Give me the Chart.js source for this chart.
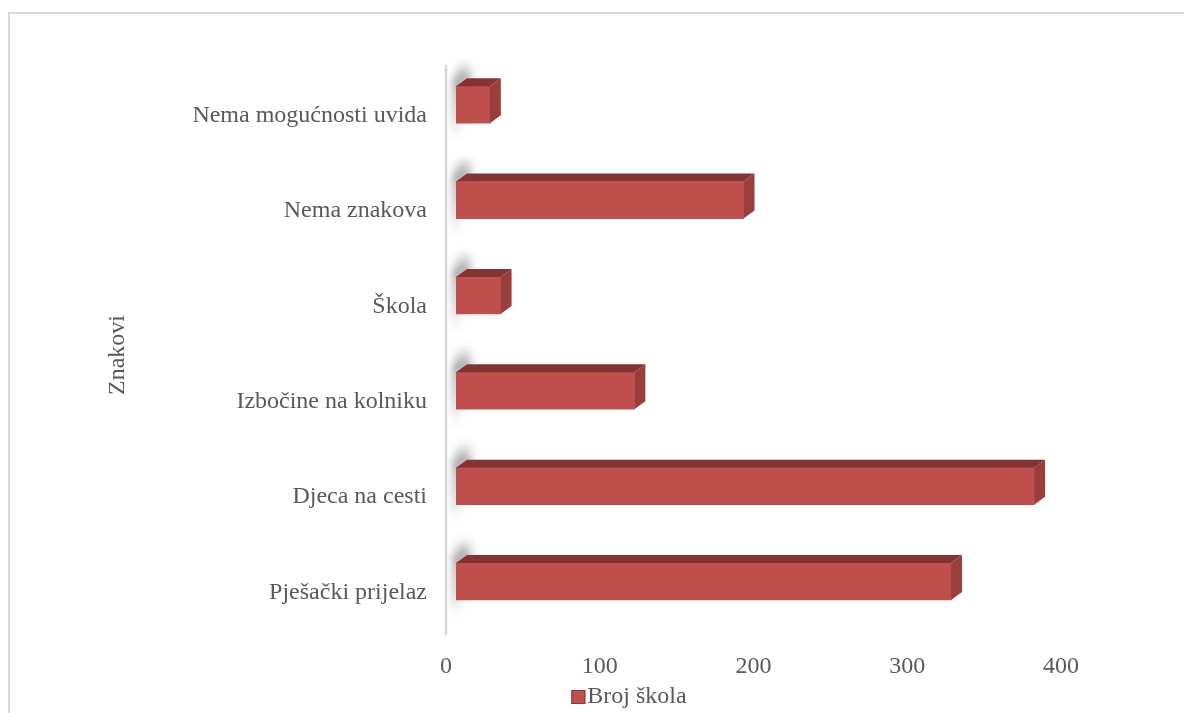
<!DOCTYPE html>
<html>
<head>
<meta charset="utf-8">
<title>Broj škola</title>
<script src="https://cdn.jsdelivr.net/npm/chart.js@4.4.1/dist/chart.umd.min.js"></script>
<style>
  html, body { margin: 0; padding: 0; background: #fff; }
  #wrap { position: relative; width: 1184px; height: 713px; overflow: hidden; }
  #frame { position: absolute; left: 8px; top: 12px; right: -2px; bottom: -2px;
           border-left: 2px solid #d9d9d9; border-top: 2px solid #d9d9d9; }
  canvas { position: absolute; left: 0; top: 0; }
</style>
</head>
<body>
<div id="wrap">
  <div id="frame"></div>
  <canvas id="chart" width="1184" height="713"></canvas>
</div>
<script>
// Data (top to bottom as shown)
const categories = ['Nema mogućnosti uvida', 'Nema znakova', 'Škola', 'Izbočine na kolniku', 'Djeca na cesti', 'Pješački prijelaz'];
const brojSkola = [22, 187, 29, 116, 376, 322];
const xTicks = [0, 100, 200, 300, 400];
const seriesName = 'Broj škola';
const axisTitle = 'Znakovi';

const barColor = '#c0504d';
const textColor = '#595959';
const fontFamily = "'Liberation Serif', 'Times New Roman', serif";

// depth of the fake 3D bars
const depthX = 11;
const depthY = 8;

const bars3d = {
  id: 'bars3d',
  beforeDatasetsDraw(chart) {
    const ctx = chart.ctx;
    const area = chart.chartArea;
    // vertical axis line, a bit left of the bars
    ctx.save();
    ctx.strokeStyle = '#d9d9d9';
    ctx.lineWidth = 2.5;
    ctx.beginPath();
    ctx.moveTo(area.left - 10, area.top + 8);
    ctx.lineTo(area.left - 10, area.bottom + 6);
    ctx.stroke();
    ctx.restore();

    // soft shadow behind the left end of each bar
    const meta = chart.getDatasetMeta(0);
    meta.data.forEach(bar => {
      const top = bar.y - bar.height / 2;
      const bottom = bar.y + bar.height / 2;
      ctx.save();
      ctx.filter = 'blur(4px)';
      // upper part, above the top face
      let g = ctx.createLinearGradient(0, top - 26, 0, top - 4);
      g.addColorStop(0, 'rgba(90,90,90,0)');
      g.addColorStop(1, 'rgba(80,80,80,0.6)');
      ctx.fillStyle = g;
      ctx.beginPath();
      ctx.moveTo(bar.base + 2, top - 24);
      ctx.lineTo(bar.base + 15, top - 26);
      ctx.lineTo(bar.base + 15, top - 4);
      ctx.lineTo(bar.base - 2, top - 2);
      ctx.closePath();
      ctx.fill();
      // strip along the left end
      g = ctx.createLinearGradient(0, top - 6, 0, bottom + 18);
      g.addColorStop(0, 'rgba(80,80,80,0.65)');
      g.addColorStop(0.6, 'rgba(120,120,120,0.35)');
      g.addColorStop(1, 'rgba(170,170,170,0)');
      ctx.fillStyle = g;
      ctx.beginPath();
      ctx.moveTo(bar.base - 2, top - 6);
      ctx.lineTo(bar.base + 4, top - 6);
      ctx.lineTo(bar.base + 4, bottom + 18);
      ctx.lineTo(bar.base - 5, bottom + 18);
      ctx.closePath();
      ctx.fill();
      ctx.restore();
    });
  },
  afterDatasetsDraw(chart) {
    const ctx = chart.ctx;
    const meta = chart.getDatasetMeta(0);
    meta.data.forEach(bar => {
      const top = bar.y - bar.height / 2;
      const bottom = bar.y + bar.height / 2;
      ctx.save();
      // top face
      ctx.fillStyle = '#843332';
      ctx.beginPath();
      ctx.moveTo(bar.base, top);
      ctx.lineTo(bar.base + depthX, top - depthY);
      ctx.lineTo(bar.x + depthX, top - depthY);
      ctx.lineTo(bar.x, top);
      ctx.closePath();
      ctx.fill();
      // right face
      ctx.fillStyle = '#9a3e3c';
      ctx.beginPath();
      ctx.moveTo(bar.x, top);
      ctx.lineTo(bar.x + depthX, top - depthY);
      ctx.lineTo(bar.x + depthX, bottom - depthY);
      ctx.lineTo(bar.x, bottom);
      ctx.closePath();
      ctx.fill();
      ctx.restore();
    });
  },
  afterDraw(chart) {
    const ctx = chart.ctx;
    // axis title, rotated
    ctx.save();
    ctx.translate(118, 355);
    ctx.rotate(-Math.PI / 2);
    ctx.font = '24px ' + fontFamily;
    ctx.fillStyle = textColor;
    ctx.textAlign = 'center';
    ctx.textBaseline = 'middle';
    ctx.fillText(axisTitle, 0, 0);
    ctx.restore();

    // legend at the bottom
    ctx.save();
    ctx.font = '24px ' + fontFamily;
    ctx.textBaseline = 'middle';
    ctx.textAlign = 'left';
    const textW = ctx.measureText(seriesName).width;
    const boxW = 14;
    const gap = 2;
    const cx = 629;
    const cy = 697;
    const x0 = cx - (boxW + gap + textW) / 2;
    ctx.fillStyle = barColor;
    ctx.fillRect(x0, cy - 7, boxW, boxW);
    ctx.strokeStyle = '#8c3836';
    ctx.lineWidth = 1;
    ctx.strokeRect(x0 + 0.5, cy - 6.5, boxW - 1, boxW - 1);
    ctx.fillStyle = textColor;
    ctx.fillText(seriesName, x0 + boxW + gap, cy);
    ctx.restore();
  }
};

const ctx = document.getElementById('chart');
const chart = new Chart(ctx, {
  type: 'bar',
  data: {
    labels: categories,
    datasets: [{
      label: seriesName,
      data: brojSkola,
      backgroundColor: barColor,
      borderWidth: 0,
      barThickness: 37
    }]
  },
  options: {
    indexAxis: 'y',
    responsive: false,
    animation: false,
    devicePixelRatio: 1,
    layout: {
      padding: { left: 140, right: 113, top: 57, bottom: 9 }
    },
    scales: {
      x: {
        min: 0,
        max: 400,
        afterBuildTicks(scale) {
          scale.ticks = xTicks.map(v => ({ value: v }));
        },
        grid: { display: false, drawTicks: false },
        border: { display: false },
        ticks: {
          color: textColor,
          font: { family: fontFamily, size: 24 },
          padding: 23,
          labelOffset: -10
        }
      },
      y: {
        afterFit(scale) {
          scale.width = 316;
        },
        grid: { display: false, drawTicks: false },
        border: { display: false },
        ticks: {
          color: textColor,
          font: { family: fontFamily, size: 24 },
          padding: 29,
          labelOffset: 11
        }
      }
    },
    plugins: {
      legend: { display: false },
      tooltip: { enabled: false }
    }
  },
  plugins: [bars3d]
});
</script>
</body>
</html>
